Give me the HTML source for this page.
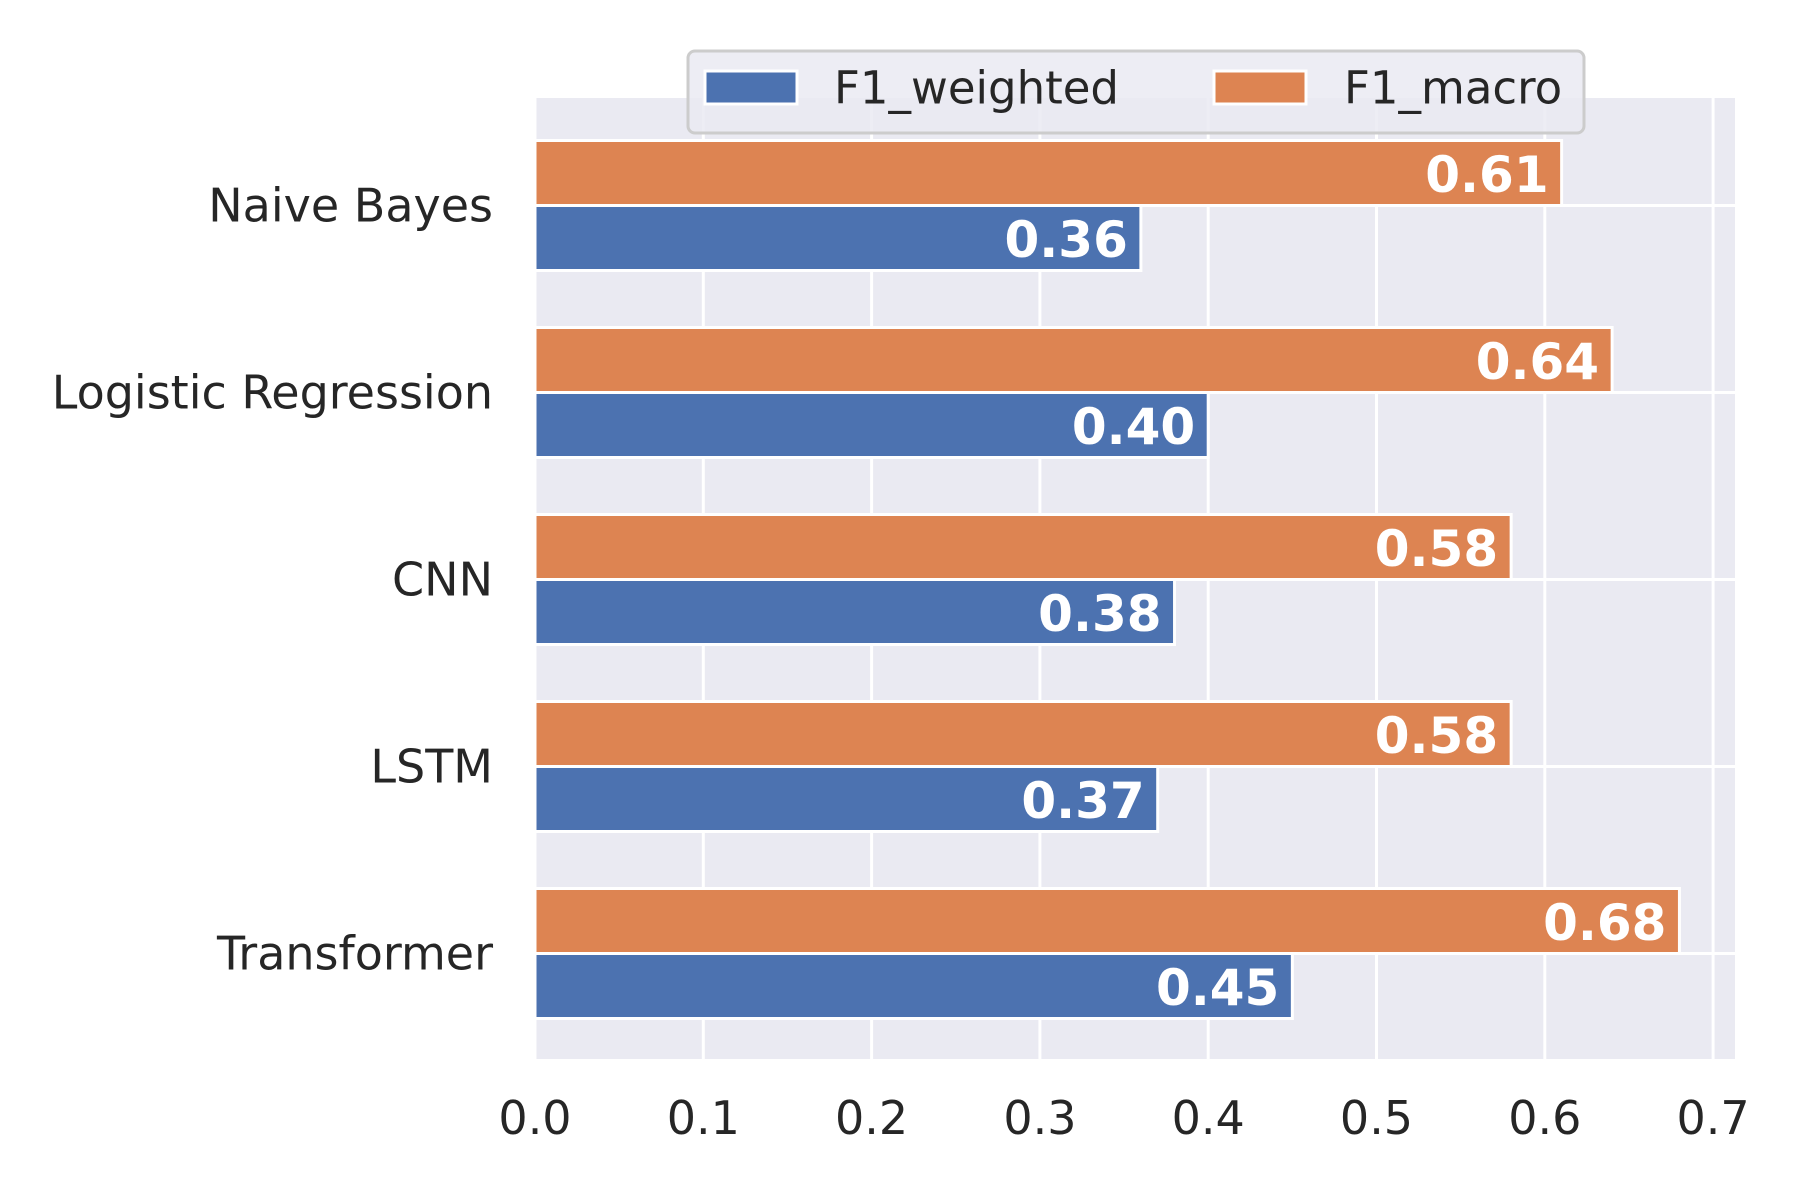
<!DOCTYPE html>
<html><head><meta charset="utf-8"><style>body{margin:0;background:#fff}svg{display:block;font-family:"DejaVu Sans","Liberation Sans",sans-serif}</style></head>
<body>
<svg id="chart" width="1800" height="1200" viewBox="0 0 1800 1200"></svg>
<script>
const categories = ["Naive Bayes","Logistic Regression","CNN","LSTM","Transformer"];
const f1Weighted = [0.36,0.40,0.38,0.37,0.45];
const f1Macro = [0.61,0.64,0.58,0.58,0.68];
const xTicks = [0.0,0.1,0.2,0.3,0.4,0.5,0.6,0.7];
const xTickLabels = ["0.0","0.1","0.2","0.3","0.4","0.5","0.6","0.7"];

const NS="http://www.w3.org/2000/svg";
const svg=document.getElementById('chart');
const L=535,R=1735,T=98,B=1059,XMAX=(R-L)/1683;
const x=v=>L+v/XMAX*(R-L);
const band=187, y0=205.5;
const yc=i=>y0+i*band;
const bh=65;
function mk(tag,attrs,parent){const e=document.createElementNS(NS,tag);for(const k in attrs)e.setAttribute(k,attrs[k]);(parent||svg).appendChild(e);return e;}

const bg=mk('rect',{x:L,y:T,width:R-L,height:B-T,fill:'#eaeaf2'});



xTicks.forEach((t,i)=>{
  const g=mk('line',{x1:x(t),x2:x(t),y1:T,y2:B,stroke:'#fff','stroke-width':3});
  
  
  const tx=mk('text',{x:x(t),y:1118,'text-anchor':'middle','dominant-baseline':'central','font-size':46,fill:'#262626'});
  tx.textContent=xTickLabels[i];
  
  
});
categories.forEach((c,i)=>{
  const g=mk('line',{x1:L,x2:R,y1:yc(i),y2:yc(i),stroke:'#fff','stroke-width':3});
  
  
});

categories.forEach((c,i)=>{
  const lab=mk('text',{x:493,y:yc(i),'text-anchor':'end','dominant-baseline':'central','font-size':46,fill:'#262626'});
  lab.textContent=c;
  
  
  const series=[[f1Macro[i],'#dd8452',yc(i)-bh,'bar-f1-macro'],[f1Weighted[i],'#4c72b0',yc(i),'bar-f1-weighted']];
  series.forEach(([v,col,top,name])=>{
    const r=mk('rect',{x:x(0),y:top,width:x(v)-x(0),height:bh,fill:col,stroke:'#fff','stroke-width':3});
    
    
    const t=mk('text',{x:x(v)-13,y:top+bh/2+2,'text-anchor':'end','dominant-baseline':'central','font-size':50,'font-weight':'bold',fill:'#fff'});
    t.textContent=v.toFixed(2);
    
    
  });
});

const lg=mk('g',{});


mk('rect',{x:688,y:51,width:896,height:82,rx:7,fill:'#eaeaf2','fill-opacity':0.85,stroke:'#cccccc','stroke-width':3},lg);
const entries=[["F1_weighted","#4c72b0",705,834],["F1_macro","#dd8452",1214,1344]];
entries.forEach(([n,c,px,tx])=>{
  const p=mk('rect',{x:px,y:71,width:92,height:33,fill:c,stroke:'#fff','stroke-width':3},lg);
  
  
  const t=mk('text',{x:tx,y:88,'dominant-baseline':'central','font-size':45,fill:'#262626'},lg);
  t.textContent=n;
  
  
});
</script>
</body></html>
